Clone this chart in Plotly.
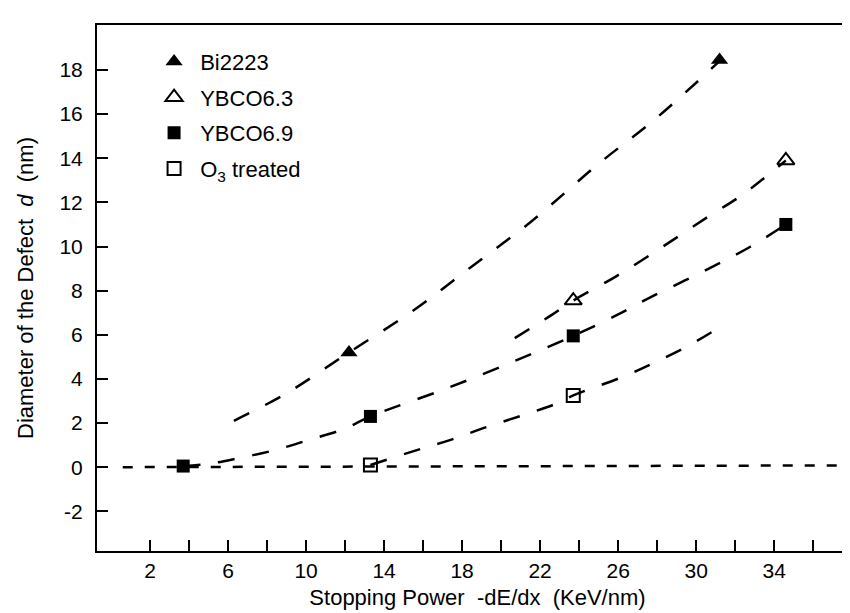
import plotly.graph_objects as go

# measured points
bi_x = [12.2, 31.2]
bi_y = [5.2, 18.45]
y63_x = [23.7, 34.6]
y63_y = [7.55, 13.9]
y69_x = [3.7, 13.3, 23.7, 34.6]
y69_y = [0.05, 2.3, 5.95, 11.0]
o3_x = [13.3, 23.7]
o3_y = [0.1, 3.25]

# dashed guide curves
bi_fit_x = [6.3, 9.0, 12.2, 15.5, 18.5, 21.5, 25.0, 28.0, 31.2]
bi_fit_y = [2.1, 3.35, 5.2, 7.1, 9.1, 11.1, 13.75, 15.85, 18.4]
y63_fit_x = [20.7, 22.6, 23.7, 25.9, 28.3, 30.7, 32.3, 34.6]
y63_fit_y = [5.85, 6.9, 7.55, 8.65, 10.0, 11.4, 12.3, 13.9]
y69_fit_x = [3.7, 5.0, 6.5, 8.3, 10.2, 12.0, 13.3, 17.3, 20.8, 23.7, 25.95, 27.65, 29.4, 31.1, 32.8, 34.6]
y69_fit_y = [0.05, 0.15, 0.4, 0.75, 1.25, 1.75, 2.3, 3.6, 4.85, 5.95, 6.9, 7.7, 8.45, 9.2, 10.0, 11.0]
o3_fit_x = [13.3, 15.6, 17.45, 19.2, 21.1, 22.75, 23.7, 26.25, 28.0, 29.7, 31.4]
o3_fit_y = [0.1, 0.75, 1.25, 1.8, 2.35, 2.85, 3.25, 4.1, 4.8, 5.55, 6.45]
zero_x = [0.6, 38.3]
zero_y = [0.0, 0.08]

x_major = list(range(2, 35, 4))
x_minor = list(range(4, 37, 4))
y_ticks = list(range(-2, 19, 2))
y_labels = [str(v) for v in y_ticks]

FONT = 'Liberation Sans, Arial, sans-serif'
curve_dash = '17px,18px'

fig = go.Figure()

for fx, fy in [(bi_fit_x, bi_fit_y), (y63_fit_x, y63_fit_y), (y69_fit_x, y69_fit_y), (o3_fit_x, o3_fit_y)]:
    fig.add_trace(go.Scatter(x=fx, y=fy, mode='lines', showlegend=False, hoverinfo='skip',
                             line=dict(color='black', width=2.5, dash=curve_dash, shape='spline')))
fig.add_trace(go.Scatter(x=zero_x, y=zero_y, mode='lines', showlegend=False, hoverinfo='skip',
                         line=dict(color='black', width=2.5, dash='10px,12px')))

nb = '\u00a0'
fig.add_trace(go.Scatter(x=bi_x, y=bi_y, mode='markers', name=nb + 'Bi2223', legendgroup='a',
                         marker=dict(symbol='triangle-up', size=15, color='black')))
fig.add_trace(go.Scatter(x=y63_x, y=y63_y, mode='markers', name=nb + 'YBCO6.3', legendgroup='b',
                         marker=dict(symbol='triangle-up-open', size=15, color='black', line=dict(width=2))))
fig.add_trace(go.Scatter(x=y69_x, y=y69_y, mode='markers', name=nb + 'YBCO6.9', legendgroup='c',
                         marker=dict(symbol='square', size=13, color='black')))
fig.add_trace(go.Scatter(x=o3_x, y=o3_y, mode='markers', name=nb + 'O<sub>3</sub> treated', legendgroup='d',
                         marker=dict(symbol='square-open', size=13, color='black', line=dict(width=2))))

tick_style = dict(ticks='inside', ticklen=11, tickwidth=2, tickcolor='black')

fig.update_layout(
    width=850, height=613,
    margin=dict(l=89, r=0, t=17, b=70),
    paper_bgcolor='white', plot_bgcolor='white',
    font=dict(family=FONT, size=21, color='black'),
    legend=dict(x=0.075, y=0.97, xanchor='left', yanchor='top', bgcolor='rgba(0,0,0,0)',
                font=dict(size=22), tracegroupgap=4, traceorder='grouped'),
    xaxis=dict(range=[-0.72, 38.3], tickvals=x_major, **tick_style,
               minor=dict(tickvals=x_minor, **tick_style),
               showline=True, linewidth=2, linecolor='black', mirror=True,
               showgrid=False, zeroline=False, ticklabelstandoff=0, automargin=False,
               title=dict(text='Stopping Power  -dE/dx  (KeV/nm)', standoff=8, font=dict(size=22))),
    yaxis=dict(range=[-3.8, 20.04], tickvals=y_ticks, ticktext=y_labels, **tick_style,
               showline=True, linewidth=2, linecolor='black', mirror='ticks',
               showgrid=False, zeroline=False, ticklabelstandoff=8, automargin=False,
               title=dict(text='Diameter of the Defect  <i>d</i>  (nm)', standoff=20, font=dict(size=22))),
)

fig.write_html('out.html')
